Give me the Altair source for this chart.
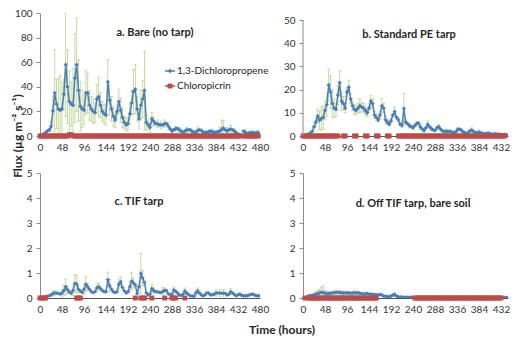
import altair as alt
import pandas as pd

FONT = "Lato"

hours = list(range(0, 481, 4))
x_ticks = [0, 48, 96, 144, 192, 240, 288, 336, 384, 432, 480]

titles = ["a. Bare (no tarp)", "b. Standard PE tarp", "c. TIF tarp", "d. Off TIF tarp, bare soil"]
series_names = ["1,3-Dichloropropene", "Chloropicrin"]
y_label = "Flux (µg m⁻² s⁻¹)"
x_label = "Time (hours)"

# 1,3-Dichloropropene flux, one value every 4 h (0..480 h)
d13_a = [0, 0.5, 1.5, 2.7, 4, 5, 7.5, 20.5, 35, 26, 22, 21,
         22, 34, 58, 40, 28, 26, 25, 47, 58, 37, 24, 22,
         21, 35, 35, 25, 22, 20, 19, 30, 32, 25, 20, 18,
         17, 44, 29, 22, 16, 13, 20, 28, 21, 15, 11, 9,
         10, 18, 27, 36, 38, 22, 14, 25, 30, 37, 11, 9,
         7, 14, 12, 10, 10, 9, 9, 9, 10, 10, 8, 5.7,
         4, 5, 6, 6, 5, 4, 3, 4, 5, 5, 5, 3.5,
         3, 3, 4.5, 5, 4.5, 3, 2.7, 3, 3.5, 4, 3.5, 3,
         3.2, 3.5, 4, 5, 6.5, 5, 4, 5, 5.6, 5, 4, 2.7,
         1.5, 1, None, 4, 3, 2, 2.5, 2.7, 2.7, 2.5, 2.7, 2.7,
         1.5]
d13_b = [0, 0.1, 0.4, 0.8, 1.2, 2, 3.9, 6, 8.6, 6.8, 7.5, 8,
         11, 13.5, 22, 19, 14, 12, 11.5, 17.6, 23, 15, 14, 12,
         19, 21, 16, 13, 11.5, 11, 12, 13, 12.5, 12, 11, 10,
         12, 15, 14, 9, 8, 7, 9, 13, 12, 7, 6, 5,
         6.5, 9, 10.5, 8, 7, 5, 4.6, 11.8, 6, 5.3, 4.5, 4,
         3.6, 4.5, 5.3, 5.6, 3.9, 3, 2.4, 3.5, 5, 4, 3.2, 2.6,
         2.4, 3.5, 4, 3, 2.2, 2, 2, 2, 2, 1.8, 1.6, 1.5,
         2.5, 3, 2.8, 2, 1.5, 1.2, 1.4, 2.2, 2.5, 2, 1.4, 1.5,
         1.6, 1.4, 1, 1, 1, 1.2, 1, 0.8, 0.8, 0.9, 0.8, 0.7,
         0.6, 0.5, 0.6, 0.5, 0.4, 0.5, 0.4, 0.4, 0.5, 0.4, 0.4, 0.3,
         0.3]
d13_c = [0, 0, 0.02, 0.05, 0.07, 0.09, 0.12, 0.18, 0.2, 0.2, 0.18, 0.16,
         0.2, 0.3, 0.45, 0.33, 0.24, 0.19, 0.3, 0.58, 0.56, 0.35, 0.28, 0.22,
         0.35, 0.55, 0.45, 0.35, 0.25, 0.22, 0.25, 0.4, 0.45, 0.38, 0.3, 0.25,
         0.25, 0.73, 0.49, 0.35, 0.25, 0.22, 0.25, 0.55, 0.65, 0.42, 0.29, 0.2,
         0.25, 0.45, 0.68, 0.6, 0.52, 0.18, 0.45, 0.98, 0.8, 0.62, 0.2, 0.12,
         0.16, 0.38, 0.3, 0.25, 0.25, 0.23, 0.22, 0.27, 0.3, 0.3, 0.17, 0.13,
         0.15, 0.32, 0.27, 0.2, 0.12, 0.1, 0.15, 0.28, 0.2, 0.14, 0.09, 0.08,
         0.07, 0.2, 0.28, 0.2, 0.12, 0.09, 0.12, 0.2, 0.2, 0.12, 0.13, 0.15,
         0.2, 0.2, 0.2, 0.19, 0.19, 0.19, 0.12, 0.15, 0.25, 0.2, 0.14, 0.09,
         0.12, 0.16, 0.1, 0.09, 0.09, 0.09, 0.12, 0.14, 0.16, 0.12, 0.09, 0.09,
         0.09]
d13_d = [0, 0.01, 0.03, 0.08, 0.1, 0.1, 0.12, 0.15, 0.18, 0.2, 0.23, 0.22,
         0.19, 0.17, 0.18, 0.19, 0.2, 0.21, 0.22, 0.23, 0.22, 0.21, 0.2, 0.2,
         0.21, 0.2, 0.19, 0.2, 0.21, 0.2, 0.21, 0.19, 0.17, 0.16, 0.17, 0.18,
         0.16, 0.15, 0.15, 0.14, 0.13, 0.12, 0.14, 0.12, 0.08, 0.07, 0.06, 0.05,
         0.08, 0.12, 0.14, 0.08, 0.05, 0.04, 0.04, 0.03, 0.03, 0.03, 0.03, 0.03,
         0.03, 0.02, 0.02, 0.02, 0.02, 0.02, 0.02, 0.02, 0.02, 0.02, 0.02, 0.02,
         0.02, 0.02, 0.02, 0.02, 0.02, 0.02, 0.02, 0.02, 0.02, 0.02, 0.02, 0.02,
         0.02, 0.02, 0.02, 0.02, 0.02, 0.02, 0.02, 0.02, 0.02, 0.02, 0.02, 0.02,
         0.02, 0.02, 0.02, 0.02, 0.02, 0.02, 0.02, 0.02, 0.02, 0.02, 0.02, 0.02,
         0.02, 0.02, 0.02, 0.02, 0.02, 0.02, 0.02, 0.02, 0.02, 0.02, 0.02, 0.02,
         0.02]

# error-bar half-widths (hour, error) for 1,3-D
err_a = [(24, 4), (28, 12), (32, 35), (36, 20), (40, 25), (44, 28), (48, 22), (52, 12),
         (56, 42), (60, 30), (64, 25), (68, 18), (72, 30), (76, 36), (80, 38), (84, 25),
         (88, 20), (92, 15), (96, 12), (100, 18), (104, 16), (108, 12), (112, 10), (116, 10),
         (120, 8), (124, 12), (128, 16), (132, 10), (136, 8), (140, 8), (144, 8), (148, 18),
         (152, 12), (156, 10), (160, 8), (164, 6), (168, 6), (172, 10), (176, 10), (180, 8),
         (184, 5), (188, 5), (192, 5), (196, 8), (200, 10), (204, 18), (208, 20), (212, 10),
         (216, 8), (220, 12), (224, 15), (228, 32), (232, 6), (236, 4), (240, 4), (244, 5),
         (248, 4), (256, 3), (264, 3), (272, 3), (280, 3), (288, 2), (296, 2), (304, 2),
         (320, 2), (336, 2), (344, 3), (360, 2), (376, 2), (392, 3), (396, 8), (400, 6),
         (408, 3), (416, 3), (424, 2), (448, 2), (464, 2), (476, 2)]
err_b = [(28, 2), (32, 3), (36, 4), (40, 5), (44, 5), (48, 4), (52, 5), (56, 7),
         (60, 7), (64, 6), (68, 4), (72, 3), (76, 4), (80, 5), (84, 4), (88, 3),
         (92, 2), (96, 2), (100, 3), (104, 2), (108, 2), (112, 2), (116, 2), (120, 2),
         (124, 3), (128, 2), (132, 2), (136, 2), (140, 1.5), (144, 2), (148, 2.5), (152, 2),
         (156, 1.5), (160, 1.5), (164, 1), (168, 1.5), (172, 3), (176, 2), (180, 1.5), (184, 1),
         (192, 1), (200, 2), (208, 1), (216, 1), (220, 6.5), (224, 1), (232, 1), (240, 1),
         (248, 1), (256, 1), (264, 1), (272, 1.5), (280, 1), (296, 1), (312, 1), (336, 1),
         (368, 1), (384, 1), (440, 0.5)]
err_c = [(28, 0.1), (32, 0.1), (48, 0.15), (52, 0.2), (56, 0.3), (60, 0.15), (72, 0.2),
         (76, 0.35), (80, 0.35), (84, 0.15), (96, 0.2), (100, 0.3), (104, 0.15), (124, 0.15),
         (128, 0.15), (148, 0.3), (152, 0.25), (172, 0.2), (176, 0.2), (196, 0.2), (200, 0.35),
         (204, 0.2), (220, 0.8), (224, 0.3), (244, 0.15), (248, 0.1), (268, 0.15), (272, 0.1),
         (292, 0.12), (316, 0.12), (340, 0.12), (344, 0.12), (384, 0.12), (392, 0.15),
         (400, 0.15), (416, 0.12)]
err_d = [(24, 0.08), (28, 0.1), (32, 0.12), (36, 0.15), (40, 0.2), (44, 0.27), (48, 0.12),
         (52, 0.1), (56, 0.08), (64, 0.08), (72, 0.1), (80, 0.08), (88, 0.08), (96, 0.06),
         (104, 0.06), (112, 0.08), (120, 0.06), (136, 0.05), (168, 0.05), (200, 0.08)]

N = None
# Chloropicrin flux (None = no measurement plotted)
chl_a = [0, 0, 0, 0, 0, 0, 0, 0, 0, 0, 0, 0,
         0, 0, 0, 0, 1, 1, 0, 0, 0, 0, 0, 0,
         0, 0, 0, 0, 0, 0, 0, 0, 0, 0, 0, 0,
         0, 0, 0, 0, 0, 0, 0, 0, 0, 0, 0, 0,
         0, 0, 0, 0, 0, 0, 0, 0, 0, 0, 0, 0,
         0, 0, 0, 0, 0, 0, 0, 0, 0, 0, 0, 0,
         0, 0, 0, 0, 0, 0, 0, 0, 0, 0, 0, 0,
         0, 0, 0, 0, 0, 0, 0, 0, 0, 0, 0, 0,
         0, 0, 0, 0, 0, 0, 0, 0, 0, 0, 0, 0,
         0, 0, N, 0, 0, 0, 0, 0, 0, 0, 0, 0,
         N]
chl_b = [0, 0, 0, 0, 0, 0, 0, 0, 0, 0, 0, 0,
         0, 0, 0, 0, 0, 0, 0, 0, N, N, 0, 0,
         N, N, N, N, 0, 0, N, N, N, N, 0, 0,
         N, N, N, N, 0, 0, N, N, N, N, 0, 0,
         N, N, N, N, 0, 0, 0, 0, 0, 0, 0, 0,
         0, 0, 0, 0, 0, 0, 0, 0, 0, 0, 0, 0,
         0, 0, 0, 0, 0, 0, 0, 0, 0, 0, 0, 0,
         0, 0, 0, 0, 0, 0, 0, 0, 0, 0, 0, 0,
         0, 0, 0, 0, 0, 0, 0, 0, 0, 0, 0, 0,
         0, 0, 0, 0, 0, 0, 0, 0, 0, 0, 0, 0,
         0]
chl_c = [0, 0, 0, 0, N, N, N, N, N, N, N, N,
         N, N, N, N, N, N, N, N, 0, 0, 0, N,
         N, N, N, N, N, N, N, N, N, N, N, N,
         N, N, N, N, N, N, N, N, N, N, N, N,
         N, N, N, N, 0, N, N, 0, 0, 0, N, N,
         N, 0, N, N, N, N, N, N, 0, N, N, N,
         0, 0, 0, N, N, N, N, 0, N, N, N, N,
         N, N, N, N, N, N, N, N, N, N, N, N,
         N, N, N, N, N, N, N, N, N, N, N, N,
         N, N, N, N, N, N, N, N, N, N, N, N,
         N]
chl_d = [N, 0, N, 0, 0, 0, 0, 0, 0, 0, 0, 0,
         0, 0, 0, 0, 0, 0, 0, 0, 0, 0, 0, 0,
         0, 0, 0, 0, 0, 0, 0, 0, 0, 0, 0, 0,
         0, 0, 0, 0, 0, N, N, N, N, N, N, N,
         N, N, N, N, N, N, N, N, N, N, N, N,
         N, 0, 0, 0, 0, 0, 0, 0, 0, 0, 0, 0,
         0, 0, 0, 0, 0, 0, 0, 0, 0, 0, 0, 0,
         0, 0, 0, 0, 0, 0, 0, 0, 0, 0, 0, 0,
         0, 0, 0, 0, 0, 0, 0, 0, 0, 0, 0, 0,
         0, N, N, N, N, 0, 0, 0, 0, 0, 0, 0,
         0]

BLUE = "#4a7ebb"
RED = "#be4b48"
GREEN = "#c6d9a0"
AXIS_GRAY = "#8c8c8c"
TEXT = "#262626"

PX_PER_HOUR = 220 / 480  # horizontal scale of every panel

one = pd.DataFrame({"k": [0]})


def txt(text, x, y, size=11, bold=True, angle=0, align="center"):
    kw = dict(text=text, fontSize=size, font=FONT, color=TEXT, align=align, baseline="middle")
    if bold:
        kw["fontWeight"] = "bold"
    if angle:
        kw["angle"] = angle
    return alt.Chart(one).mark_text(**kw).encode(x=alt.value(x), y=alt.value(y))


def panel(vals, errs, chl, ymax, yticks, title, tx, ty, width, height, rule_top=None, extras=()):
    xmax = width / PX_PER_HOUR
    ticks = [t for t in x_ticks if t <= xmax]
    df = pd.DataFrame({"hour": hours, "flux": vals})
    df["seg"] = df["flux"].isna().cumsum()
    df = df.dropna()
    look = dict(zip(df["hour"], df["flux"]))
    edf = pd.DataFrame({"hour": [h for h, e in errs],
                        "flux": [look[h] - e for h, e in errs],
                        "flux2": [look[h] + e for h, e in errs]})
    edf = edf[edf["hour"] <= xmax]
    hi = pd.DataFrame({"hour": edf["hour"], "flux": edf["flux2"]})
    lo = pd.DataFrame({"hour": edf["hour"], "flux": edf["flux"]})
    cdf = pd.DataFrame({"hour": hours, "flux": chl}).dropna()
    cdf = cdf[cdf["hour"] <= xmax - 4]

    X = alt.X("hour:Q", title=None,
              scale=alt.Scale(domain=[0, xmax], nice=False, zero=False),
              axis=alt.Axis(values=ticks, grid=False, ticks=False, labelPadding=6,
                            domainColor="#555555", labelFlush=False, labelOverlap=False))
    Y = alt.Y("flux:Q", title=None,
              scale=alt.Scale(domain=[0, ymax], nice=False),
              axis=alt.Axis(values=yticks, grid=False, tickSize=4, tickColor=AXIS_GRAY,
                            domain=rule_top is None, domainColor=AXIS_GRAY, labelPadding=4,
                            labelOverlap=False))

    layers = [
        alt.Chart(edf).mark_rule(color=GREEN, strokeWidth=1, clip=True).encode(
            x=X, y=Y, y2=alt.Y2("flux2:Q", title=None)),
        alt.Chart(hi).mark_point(shape="M-1,0L1,0", size=9, stroke=GREEN, strokeWidth=1,
                                 opacity=1, clip=True).encode(x=X, y=Y),
        alt.Chart(lo).mark_point(shape="M-1,0L1,0", size=9, stroke=GREEN, strokeWidth=1,
                                 opacity=1, clip=True).encode(x=X, y=Y),
        alt.Chart(df).mark_line(color=BLUE, strokeWidth=1.5, clip=True).encode(
            x=X, y=Y, detail="seg:N"),
        alt.Chart(df).mark_point(shape="diamond", filled=True, size=18, color=BLUE,
                                 opacity=1, clip=True).encode(x=X, y=Y),
        alt.Chart(cdf).mark_square(size=24, color=RED, opacity=1).encode(x=X, y=Y),
    ]
    if rule_top is not None:
        rdf = pd.DataFrame({"flux": [0], "flux2": [rule_top]})
        layers.append(alt.Chart(rdf).mark_rule(color=AXIS_GRAY).encode(
            x=alt.value(0), y=Y, y2=alt.Y2("flux2:Q", title=None)))
    layers.append(txt(title, tx, ty))
    layers.extend(extras)
    return alt.layer(*layers).properties(width=width, height=height)


legend = [
    alt.Chart(one).mark_rule(color=BLUE, strokeWidth=1.5).encode(
        x=alt.value(125), x2=alt.value(135), y=alt.value(58)),
    alt.Chart(one).mark_point(shape="diamond", filled=True, size=22, color=BLUE, opacity=1).encode(
        x=alt.value(130), y=alt.value(58)),
    txt(series_names[0], 137, 58, size=10, bold=False, align="left"),
    alt.Chart(one).mark_rule(color=RED, strokeWidth=1.5).encode(
        x=alt.value(125), x2=alt.value(135), y=alt.value(73)),
    alt.Chart(one).mark_square(size=24, color=RED, opacity=1).encode(
        x=alt.value(130), y=alt.value(73)),
    txt(series_names[1], 137, 73, size=10, bold=False, align="left"),
    txt(y_label, -22, 123, size=12, angle=270),
]

pa = panel(d13_a, err_a, chl_a, 100, [0, 20, 40, 60, 80, 100], titles[0], 115, 20, 220, 123,
           extras=legend)
pb = panel(d13_b, err_b, chl_b, 50 * 123 / 116, [0, 10, 20, 30, 40, 50], titles[1], 106, 22,
           205, 123, rule_top=50)
pc = panel(d13_c, err_c, chl_c, 5, [0, 1, 2, 3, 4, 5], titles[2], 99, 29, 220, 125,
           extras=[txt(x_label, 242, 157, size=12)])
pd_ = panel(d13_d, err_d, chl_d, 5, [0, 1, 2, 3, 4, 5], titles[3], 110, 31, 205, 125)

chart = alt.concat(pa, pb, pc, pd_, columns=2, spacing={"row": 37, "column": 43},
                   bounds="flush").properties(
    padding={"left": 4, "top": 0, "right": 0, "bottom": 0}, background="white"
).configure_view(stroke=None).configure_axis(
    labelFont=FONT, labelFontSize=10, labelColor="#333333"
)

chart.save("out.html", embed_options={"renderer": "svg", "actions": False})
